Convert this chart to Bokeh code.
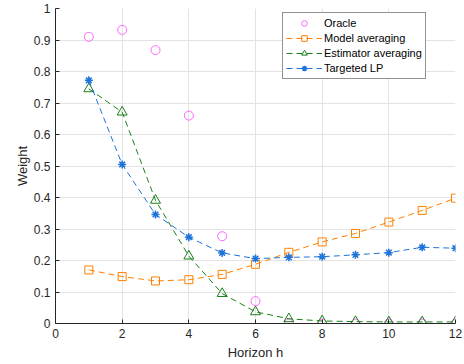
from bokeh.plotting import figure
from bokeh.models import FixedTicker, Legend, LegendItem
from bokeh.embed import file_html
from bokeh.resources import INLINE

horizons = [1, 2, 3, 4, 5, 6, 7, 8, 9, 10, 11, 12]
oracle = [0.91, 0.932, 0.868, 0.66, 0.277, 0.071, 0.0, 0.0, 0.0, 0.0, 0.0, 0.0]
model_avg = [0.17, 0.149, 0.135, 0.139, 0.156, 0.188, 0.226, 0.259, 0.286, 0.322, 0.359, 0.398]
estimator_avg = [0.745, 0.671, 0.391, 0.214, 0.095, 0.037, 0.015, 0.008, 0.006, 0.005, 0.005, 0.005]
targeted_lp = [0.772, 0.505, 0.346, 0.274, 0.224, 0.206, 0.21, 0.212, 0.218, 0.225, 0.242, 0.239]

x_ticks = [0, 2, 4, 6, 8, 10, 12]
y_ticks = [0, 0.1, 0.2, 0.3, 0.4, 0.5, 0.6, 0.7, 0.8, 0.9, 1]
y_tick_labels = ["0", "0.1", "0.2", "0.3", "0.4", "0.5", "0.6", "0.7", "0.8", "0.9", "1"]

FONT = "Liberation Sans"
C_ORACLE = "#FF66FF"
C_MODEL = "#FF8000"
C_EST = "#1A7F1A"
C_TLP = "#1F73D9"

p = figure(width=464, height=364, output_backend="svg", toolbar_location=None,
           x_range=(0, 12), y_range=(0, 1),
           min_border_left=55, min_border_right=9, min_border_top=8, min_border_bottom=41)
p.outline_line_color = None
p.background_fill_color = "white"

for ax in (p.xaxis[0], p.yaxis[0]):
    ax.axis_line_color = "#262626"
    ax.major_tick_line_color = "#262626"
    ax.major_tick_in = 4
    ax.major_tick_out = 0
    ax.minor_tick_line_color = None
    ax.major_label_text_font = FONT
    ax.major_label_text_font_size = "12px"
    ax.major_label_text_color = "#262626"
    ax.axis_label_text_font = FONT
    ax.axis_label_text_font_size = "13px"
    ax.axis_label_text_font_style = "normal"
    ax.axis_label_text_color = "#262626"

p.xaxis.ticker = FixedTicker(ticks=x_ticks)
p.yaxis.ticker = FixedTicker(ticks=y_ticks)
p.yaxis.major_label_overrides = {t: l for t, l in zip(y_ticks, y_tick_labels)}
p.xaxis.axis_label = "Horizon h"
p.yaxis.axis_label = "Weight"
p.xaxis.axis_label_standoff = 4
p.yaxis.axis_label_standoff = 1

p.xgrid.grid_line_color = "#E3E3E3"
p.ygrid.grid_line_color = "#E3E3E3"

r_or = p.scatter(horizons, oracle, marker="circle", size=9, fill_color=None,
                 line_color=C_ORACLE, line_width=1)

l_m = p.line(horizons, model_avg, line_color=C_MODEL, line_dash="6 4", line_width=1)
s_m = p.scatter(horizons, model_avg, marker="square", size=8, fill_color=None,
                line_color=C_MODEL, line_width=1)

l_e = p.line(horizons, estimator_avg, line_color=C_EST, line_dash="6 4", line_width=1)
s_e = p.scatter(horizons, estimator_avg, marker="triangle", size=10, fill_color=None,
                line_color=C_EST, line_width=1)

l_t = p.line(horizons, targeted_lp, line_color=C_TLP, line_dash="6 4", line_width=1)
s_t = p.scatter(horizons, targeted_lp, marker="asterisk", size=8, fill_color=None,
                line_color=C_TLP, line_width=1.5)

legend = Legend(items=[
    LegendItem(label="Oracle", renderers=[r_or]),
    LegendItem(label="Model averaging", renderers=[l_m, s_m]),
    LegendItem(label="Estimator averaging", renderers=[l_e, s_e]),
    LegendItem(label="Targeted LP", renderers=[l_t, s_t]),
], location=(227, 244))
legend.border_line_color = "#262626"
legend.border_line_width = 1
legend.background_fill_alpha = 1
legend.label_text_font = FONT
legend.label_text_font_size = "11px"
legend.label_text_color = "black"
legend.padding = 3
legend.spacing = 1
legend.margin = 0
legend.glyph_width = 36
legend.glyph_height = 14
legend.label_height = 14
legend.label_standoff = 2
p.add_layout(legend, "center")

open("out.html", "w").write(file_html(p, INLINE))
